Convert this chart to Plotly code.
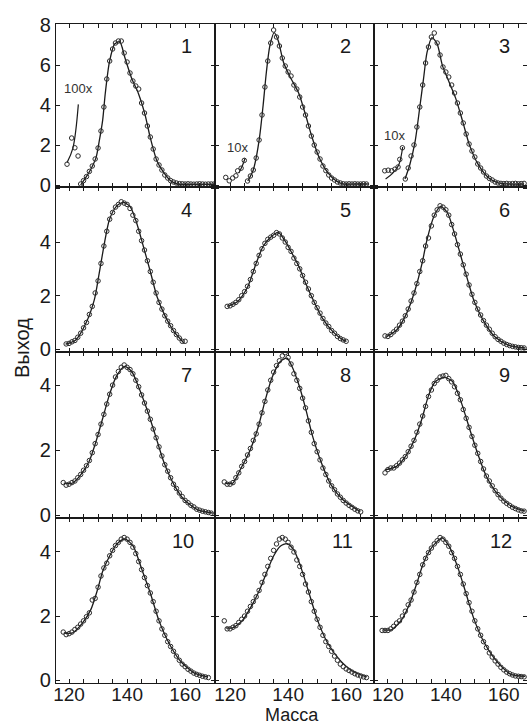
import plotly.graph_objects as go

# ---------------- data (mass, yield) ----------------
# smooth fitted curves
curve_m_1 = [124.0, 125.8, 127.5, 129.3, 130.4, 131.6, 132.5, 133.9, 135.7, 137.5, 139.2, 141.6, 143.9, 146.2, 148.0, 150.3, 152.6, 155.0, 157.3, 160, 165, 170]
curve_v_1 = [0.0, 0.38, 0.79, 1.37, 2.19, 3.26, 4.6, 6.14, 7.05, 7.16, 6.39, 5.32, 4.58, 3.51, 2.36, 1.2, 0.63, 0.21, 0.05, 0.03, 0.03, 0.03]
curve_m_2 = [126.1, 127.9, 129.0, 130.2, 131.4, 132.5, 133.7, 135.2, 136.6, 138.4, 140.7, 143.7, 146.0, 148.3, 150.7, 153.6, 156.5, 158.9, 163, 167.5]
curve_v_2 = [0.2, 0.71, 1.37, 2.44, 4.0, 5.64, 6.96, 7.62, 7.21, 6.14, 5.4, 4.58, 3.51, 2.36, 1.37, 0.63, 0.21, 0.05, 0.05, 0.05]
curve_m_3 = [125.9, 127.6, 129.4, 131.1, 132.3, 133.5, 135.2, 137.0, 138.8, 141.1, 143.4, 145.8, 148.1, 151.1, 154.6, 158.1, 162, 167]
curve_v_3 = [0.3, 1.04, 2.19, 4.0, 5.32, 6.63, 7.37, 7.05, 5.98, 5.15, 4.33, 3.18, 2.02, 1.04, 0.38, 0.1, 0.05, 0.05]
curve_m_4 = [118.8, 122.3, 125.8, 128.7, 130.4, 132.2, 133.9, 136.3, 138.6, 141.0, 143.3, 145.6, 148.0, 150.3, 153.2, 156.2, 159.7]
curve_v_4 = [0.19, 0.35, 0.97, 1.84, 2.84, 3.96, 4.83, 5.33, 5.48, 5.33, 4.71, 3.84, 2.9, 1.97, 1.22, 0.66, 0.22]
curve_m_5 = [119.1, 122.6, 126.1, 129.0, 131.4, 133.7, 136.6, 139.0, 141.3, 143.7, 146.0, 148.9, 151.8, 155.4, 158.9, 160.1]
curve_v_5 = [1.6, 1.78, 2.34, 3.21, 3.84, 4.15, 4.36, 4.03, 3.59, 3.09, 2.47, 1.78, 1.16, 0.66, 0.35, 0.3]
curve_m_6 = [119.5, 123.0, 126.5, 129.4, 131.8, 133.5, 135.9, 138.2, 140.6, 142.9, 145.2, 147.5, 149.8, 152.8, 156.9, 161.6, 167.4]
curve_v_6 = [0.47, 0.72, 1.35, 2.22, 3.21, 4.09, 4.96, 5.33, 5.08, 4.34, 3.46, 2.59, 1.78, 1.1, 0.47, 0.16, 0.05]
curve_m_7 = [118.2, 121.1, 124.0, 126.9, 129.3, 131.6, 133.9, 136.3, 139.2, 141.6, 143.9, 146.9, 149.7, 152.6, 156.2, 159.7, 164.4, 169.6]
curve_v_7 = [0.98, 0.98, 1.24, 1.65, 2.27, 2.98, 3.7, 4.27, 4.58, 4.42, 3.96, 3.24, 2.47, 1.65, 0.93, 0.47, 0.16, 0.06]
curve_m_8 = [118.5, 120.9, 123.8, 126.7, 129.6, 132.0, 134.4, 137.3, 139.6, 141.3, 143.7, 146.0, 148.3, 151.3, 154.8, 158.9, 164.8]
curve_v_8 = [0.98, 0.98, 1.45, 1.96, 2.68, 3.5, 4.22, 4.73, 4.83, 4.58, 4.01, 3.29, 2.47, 1.65, 0.93, 0.47, 0.11]
curve_m_9 = [118.9, 123.0, 126.5, 129.4, 131.8, 134.1, 136.4, 139.4, 142.3, 145.2, 148.1, 151.1, 154.0, 158.1, 162.7, 167.4]
curve_v_9 = [1.39, 1.5, 1.86, 2.37, 2.98, 3.7, 4.11, 4.24, 4.11, 3.5, 2.68, 1.86, 1.19, 0.62, 0.27, 0.12]
curve_m_10 = [118.2, 121.1, 124.6, 127.5, 129.8, 131.6, 133.9, 136.3, 139.2, 142.1, 145.1, 148.0, 150.9, 154.4, 158.5, 163.2, 167.9]
curve_v_10 = [1.47, 1.47, 1.78, 2.2, 2.82, 3.4, 3.86, 4.23, 4.41, 4.18, 3.45, 2.72, 1.88, 1.16, 0.58, 0.22, 0.1]
curve_m_11 = [118.5, 120.9, 124.4, 127.3, 130.2, 132.5, 134.9, 137.3, 139.6, 141.9, 144.3, 147.2, 150.1, 153.6, 157.7, 162.4, 167.1]
curve_v_11 = [1.63, 1.63, 1.88, 2.3, 2.82, 3.34, 3.86, 4.18, 4.26, 4.07, 3.55, 2.72, 1.88, 1.16, 0.64, 0.27, 0.1]
curve_m_12 = [118.3, 121.2, 124.7, 127.6, 130.0, 132.3, 134.6, 137.0, 138.7, 141.1, 144.0, 146.9, 149.8, 153.3, 158.1, 162.7, 167.4]
curve_v_12 = [1.57, 1.57, 1.88, 2.41, 3.03, 3.66, 4.07, 4.33, 4.44, 4.18, 3.55, 2.72, 1.88, 1.16, 0.53, 0.17, 0.12]

# measured points: first mass number, then yields at consecutive masses
first_mass = [124, 126, 126, 119, 119, 119, 118, 118, 119, 118, 118, 118]
yield_1 = [0.05, 0.22, 0.42, 0.68, 0.95, 1.3, 1.85, 2.7, 3.9, 5.3, 6.2, 6.8, 7.1, 7.2, 7.2, 6.6, 6.15, 5.6, 5.2, 4.95, 4.8, 4.1, 3.6, 2.95, 2.4, 1.8, 1.3, 1.0, 0.75, 0.5, 0.35, 0.22, 0.15, 0.1, 0.07, 0.06, 0.05, 0.06, 0.05, 0.04, 0.05, 0.06, 0.05, 0.04, 0.05, 0.05, 0.05]
yield_2 = [0.2, 0.45, 0.75, 1.35, 2.25, 3.5, 4.9, 6.2, 7.1, 7.75, 7.4, 6.95, 6.35, 5.95, 5.65, 5.45, 5.0, 4.8, 4.4, 3.9, 3.5, 2.95, 2.45, 2.0, 1.65, 1.3, 0.95, 0.72, 0.5, 0.35, 0.25, 0.15, 0.1, 0.06, 0.05, 0.06, 0.05, 0.06, 0.05, 0.05, 0.06, 0.05]
yield_3 = [0.3, 0.85, 1.45, 2.0, 2.9, 3.9, 5.0, 6.1, 6.9, 7.4, 7.6, 7.1, 6.5, 5.9, 5.65, 5.4, 5.0, 4.6, 4.1, 3.6, 3.1, 2.55, 2.05, 1.7, 1.4, 1.05, 0.85, 0.65, 0.45, 0.33, 0.25, 0.15, 0.1, 0.08, 0.07, 0.08, 0.06, 0.07, 0.08, 0.06, 0.07, 0.08]
yield_4 = [0.2, 0.22, 0.28, 0.33, 0.45, 0.6, 0.8, 1.0, 1.3, 1.6, 2.1, 2.55, 3.2, 3.85, 4.4, 4.85, 5.1, 5.3, 5.4, 5.5, 5.45, 5.4, 5.25, 5.0, 4.8, 4.4, 4.05, 3.7, 3.3, 2.9, 2.5, 2.1, 1.75, 1.5, 1.25, 1.05, 0.88, 0.7, 0.55, 0.42, 0.3, 0.3]
yield_5 = [1.6, 1.62, 1.68, 1.75, 1.85, 2.0, 2.15, 2.35, 2.6, 2.9, 3.2, 3.5, 3.75, 3.95, 4.1, 4.18, 4.25, 4.35, 4.3, 4.15, 4.0, 3.8, 3.65, 3.4, 3.2, 3.0, 2.75, 2.5, 2.25, 2.0, 1.75, 1.55, 1.35, 1.15, 0.98, 0.85, 0.7, 0.6, 0.48, 0.4, 0.35, 0.3]
yield_6 = [0.5, 0.48, 0.55, 0.65, 0.75, 0.9, 1.05, 1.25, 1.5, 1.8, 2.1, 2.45, 2.9, 3.3, 3.85, 4.15, 4.6, 5.0, 5.2, 5.35, 5.3, 5.2, 5.0, 4.65, 4.3, 3.9, 3.55, 3.15, 2.8, 2.4, 2.05, 1.75, 1.5, 1.28, 1.07, 0.9, 0.75, 0.6, 0.47, 0.37, 0.3, 0.23, 0.18, 0.14, 0.11, 0.09, 0.07, 0.06, 0.05]
yield_7 = [1.0, 0.92, 0.95, 1.0, 1.05, 1.15, 1.25, 1.38, 1.52, 1.68, 1.92, 2.2, 2.48, 2.8, 3.1, 3.42, 3.72, 4.0, 4.25, 4.42, 4.55, 4.62, 4.55, 4.48, 4.35, 4.15, 3.95, 3.7, 3.45, 3.2, 2.95, 2.65, 2.38, 2.1, 1.82, 1.55, 1.35, 1.15, 0.95, 0.82, 0.68, 0.57, 0.45, 0.38, 0.3, 0.25, 0.18, 0.15, 0.12, 0.1, 0.08, 0.06]
yield_8 = [1.02, 0.95, 0.95, 1.0, 1.15, 1.3, 1.5, 1.65, 1.85, 2.05, 2.3, 2.5, 2.8, 3.15, 3.5, 3.85, 4.15, 4.4, 4.6, 4.75, 4.9, 5.0, 4.85, 4.65, 4.35, 4.15, 3.9, 3.6, 3.3, 2.9, 2.55, 2.2, 1.95, 1.7, 1.45, 1.25, 1.05, 0.9, 0.78, 0.65, 0.55, 0.45, 0.37, 0.3, 0.24, 0.18, 0.13, 0.1]
yield_9 = [1.3, 1.4, 1.45, 1.45, 1.52, 1.6, 1.7, 1.8, 1.95, 2.12, 2.3, 2.55, 2.8, 3.05, 3.35, 3.65, 3.85, 4.05, 4.15, 4.25, 4.28, 4.3, 4.2, 4.1, 3.95, 3.75, 3.55, 3.25, 2.98, 2.7, 2.42, 2.15, 1.9, 1.65, 1.42, 1.2, 1.05, 0.9, 0.75, 0.63, 0.52, 0.43, 0.36, 0.3, 0.24, 0.2, 0.16, 0.13, 0.12]
yield_10 = [1.5, 1.42, 1.45, 1.5, 1.58, 1.65, 1.75, 1.85, 1.98, 2.1, 2.5, 2.55, 2.9, 3.25, 3.5, 3.65, 3.88, 4.05, 4.2, 4.3, 4.4, 4.45, 4.4, 4.3, 4.15, 3.95, 3.7, 3.45, 3.2, 2.95, 2.72, 2.45, 2.15, 1.85, 1.6, 1.4, 1.2, 1.05, 0.9, 0.75, 0.62, 0.5, 0.42, 0.34, 0.28, 0.22, 0.18, 0.15, 0.12, 0.1, 0.08]
yield_11 = [1.85, 1.6, 1.6, 1.65, 1.7, 1.8, 1.9, 2.0, 2.15, 2.3, 2.45, 2.6, 2.8, 3.05, 3.3, 3.55, 3.8, 4.05, 4.25, 4.4, 4.45, 4.4, 4.3, 4.15, 4.0, 3.75, 3.55, 3.3, 3.0, 2.75, 2.45, 2.15, 1.9, 1.65, 1.4, 1.2, 1.05, 0.9, 0.75, 0.62, 0.5, 0.42, 0.35, 0.3, 0.25, 0.2, 0.16, 0.13, 0.1, 0.08]
yield_12 = [1.55, 1.55, 1.55, 1.6, 1.68, 1.78, 1.85, 2.0, 2.15, 2.35, 2.5, 2.75, 3.05, 3.3, 3.6, 3.8, 3.98, 4.12, 4.25, 4.35, 4.45, 4.4, 4.3, 4.18, 3.98, 3.8, 3.55, 3.3, 3.0, 2.7, 2.42, 2.15, 1.85, 1.6, 1.4, 1.2, 1.02, 0.85, 0.72, 0.6, 0.5, 0.4, 0.32, 0.25, 0.2, 0.16, 0.13, 0.12, 0.11, 0.1]

# magnified low-mass insets (panels 1-3)
inset_pts_m_1 = [119.3, 120.9, 122.0, 123.1]
inset_pts_v_1 = [1.04, 2.35, 1.86, 1.45]
inset_line_m_1 = [119.3, 121.3, 123.2]
inset_line_v_1 = [1.12, 1.83, 4.03]
inset_pts_m_2 = [118.5, 119.7, 120.9, 122.0, 122.6, 123.8, 124.9]
inset_pts_v_2 = [0.38, 0.21, 0.35, 0.46, 0.71, 0.84, 1.23]
inset_line_m_2 = [123.0, 124.2, 125.2]
inset_line_v_2 = [0.6, 0.95, 1.35]
inset_pts_m_3 = [118.9, 120.1, 121.3, 122.4, 123.5, 124.1, 125.0]
inset_pts_v_3 = [0.71, 0.74, 0.71, 0.79, 0.9, 1.28, 1.86]
inset_line_m_3 = [119.2, 121.6, 123.7, 125.1]
inset_line_v_3 = [0.3, 0.58, 0.99, 1.9]
inset_labels = ["100x", "10x", "10x"]

panel_labels = [str(i) for i in range(1, 13)]
x_tick_labels = ["120", "140", "160"]
x_title = "Масса"
y_title = "Выход"

curves_m = [curve_m_1, curve_m_2, curve_m_3, curve_m_4, curve_m_5, curve_m_6,
            curve_m_7, curve_m_8, curve_m_9, curve_m_10, curve_m_11, curve_m_12]
curves_v = [curve_v_1, curve_v_2, curve_v_3, curve_v_4, curve_v_5, curve_v_6,
            curve_v_7, curve_v_8, curve_v_9, curve_v_10, curve_v_11, curve_v_12]
yields = [yield_1, yield_2, yield_3, yield_4, yield_5, yield_6,
          yield_7, yield_8, yield_9, yield_10, yield_11, yield_12]
insets = [(inset_pts_m_1, inset_pts_v_1, inset_line_m_1, inset_line_v_1),
          (inset_pts_m_2, inset_pts_v_2, inset_line_m_2, inset_line_v_2),
          (inset_pts_m_3, inset_pts_v_3, inset_line_m_3, inset_line_v_3)]

# ---------------- layout geometry ----------------
W, H = 527, 727
L, R, T, B = 56, 527, 24, 683
col_px = [(56, 215), (215, 374), (374, 527)]
row_px = [(24, 187), (187, 352), (352, 518), (518, 683)]
x_ranges = [[115.5, 170.3], [114.8, 169.6], [115.2, 168.0]]
y_ranges = [[-0.1, 8.05], [-0.1, 6.05], [-0.09, 5.02], [-0.09, 5.06]]
y_ticks = [[0, 2, 4, 6, 8], [0, 2, 4, 6], [0, 2, 4], [0, 2, 4]]
y_ticktext = [["0", "2", "4", "6", "8"], ["0", "2", "4", ""], ["0", "2", "4"], ["0", "2", "4"]]

def pxx(px):
    return (px - L) / (R - L)

def pxy(py):
    return (B - py) / (B - T)

FONT = "Liberation Sans, Arial, sans-serif"
INK = "#1a1a1a"

fig = go.Figure()
layout = dict(
    width=W, height=H,
    margin=dict(l=L, r=W - R, t=T, b=H - B, pad=0),
    paper_bgcolor="white", plot_bgcolor="white",
    showlegend=False,
    font=dict(family=FONT, color=INK, size=20),
    annotations=[],
)

for i in range(12):
    r, c = divmod(i, 3)
    n = i + 1
    xa = "x" if n == 1 else f"x{n}"
    ya = "y" if n == 1 else f"y{n}"
    xkey = "xaxis" if n == 1 else f"xaxis{n}"
    ykey = "yaxis" if n == 1 else f"yaxis{n}"

    fig.add_trace(go.Scatter(
        x=curves_m[i], y=curves_v[i], mode="lines",
        line=dict(color=INK, width=1.3, shape="spline", smoothing=0.7),
        xaxis=xa, yaxis=ya, hoverinfo="skip"))
    ms = list(range(first_mass[i], first_mass[i] + len(yields[i])))
    fig.add_trace(go.Scatter(
        x=ms, y=yields[i], mode="markers",
        marker=dict(symbol="circle-open", size=4.5, color="#2b2b2b", line=dict(width=1)),
        xaxis=xa, yaxis=ya))
    if i < 3:
        pm, pv, lm, lv = insets[i]
        fig.add_trace(go.Scatter(
            x=lm, y=lv, mode="lines",
            line=dict(color=INK, width=1.2, shape="spline"),
            xaxis=xa, yaxis=ya, hoverinfo="skip"))
        fig.add_trace(go.Scatter(
            x=pm, y=pv, mode="markers",
            marker=dict(symbol="circle-open", size=4.5, color="#2b2b2b", line=dict(width=1)),
            xaxis=xa, yaxis=ya))

    x0, x1 = col_px[c]
    y0, y1 = row_px[r]
    layout[xkey] = dict(
        domain=[pxx(x0), pxx(x1)], range=x_ranges[c], anchor=ya,
        tickmode="array", tickvals=list(range(120, 171, 5)),
        ticktext=[("%d" % v) if ("%d" % v) in x_tick_labels else "" for v in range(120, 171, 5)],
        showticklabels=(r == 3), ticks="inside", ticklen=4, tickwidth=1, tickcolor=INK,
        ticklabelstandoff=-6,
        showline=True, linecolor=INK, linewidth=1.3, mirror="ticks",
        showgrid=False, zeroline=False,
        tickfont=dict(size=19, family=FONT, color=INK))
    layout[ykey] = dict(
        domain=[pxy(y1), pxy(y0)], range=y_ranges[r], anchor=xa,
        tickmode="array", tickvals=y_ticks[r], ticktext=y_ticktext[r],
        showticklabels=(c == 0), ticks="inside", ticklen=4, tickwidth=1, tickcolor=INK,
        showline=True, linecolor=INK, linewidth=1.3, mirror="ticks",
        showgrid=False, zeroline=False,
        tickfont=dict(size=20, family=FONT, color=INK))

    # panel number
    lx = x0 + (127 if n >= 10 else 130)
    ly = y0 + (23 if r > 0 else 22)
    layout["annotations"].append(dict(
        text=panel_labels[i], x=pxx(lx), y=pxy(ly), xref="paper", yref="paper",
        showarrow=False, xanchor="center", yanchor="middle",
        font=dict(size=20, family=FONT, color=INK)))

# inset magnification labels
for (px, py), txt in zip([(78, 88), (237, 147), (394, 135)], inset_labels):
    layout["annotations"].append(dict(
        text=txt, x=pxx(px), y=pxy(py), xref="paper", yref="paper",
        showarrow=False, xanchor="center", yanchor="middle",
        font=dict(size=13, family=FONT, color="#333")))

# axis titles
layout["annotations"].append(dict(
    text=x_title, x=pxx(292), y=pxy(715), xref="paper", yref="paper",
    showarrow=False, xanchor="center", yanchor="middle",
    font=dict(size=18, family=FONT, color=INK)))
layout["annotations"].append(dict(
    text=y_title, x=pxx(22), y=pxy(348), xref="paper", yref="paper",
    showarrow=False, xanchor="center", yanchor="middle", textangle=-90,
    font=dict(size=20, family=FONT, color=INK)))

fig.update_layout(**layout)
fig.write_html("out.html")
